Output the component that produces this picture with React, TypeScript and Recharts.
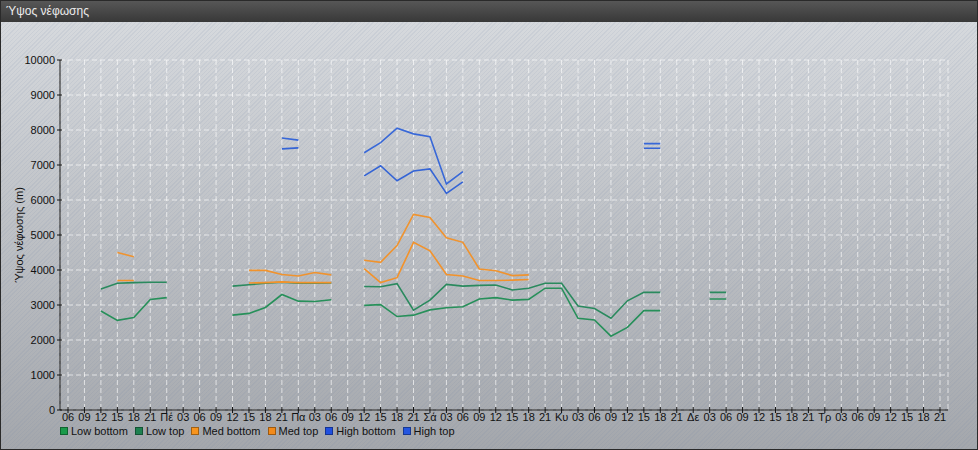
import { LineChart, Line, XAxis, YAxis, CartesianGrid } from "recharts";

// 3-hour slots, Wed 06:00 .. Tue 21:00
const firstDay = ["06", "09", "12", "15", "18", "21"];
const dayNames = ["Πέ", "Πα", "Σά", "Κυ", "Δε", "Τρ"];
const hours = ["03", "06", "09", "12", "15", "18", "21"];
const slots: string[] = [...firstDay, ...dayNames.flatMap((d) => [d, ...hours])];

const _ = null;

const lowBottom = [
  _, _, 2830, 2560, 2640, 3160, 3210, _, _, _,
  2710, 2760, 2930, 3300, 3110, 3100, 3150, _, 2990, 3010,
  2670, 2710, 2860, 2920, 2950, 3170, 3210, 3140, 3160, 3480,
  3480, 2620, 2570, 2110, 2360, 2840, 2840, _, _, 3170,
  3170, _, _, _, _, _, _, _, _, _,
  _, _, _, _,
];
const lowTop = [
  _, _, 3460, 3620, 3640, 3650, 3650, _, _, _,
  3540, 3580, 3620, 3650, 3620, 3620, 3630, _, 3530, 3520,
  3610, 2850, 3140, 3590, 3540, 3560, 3570, 3430, 3480, 3620,
  3620, 2970, 2900, 2620, 3120, 3360, 3360, _, _, 3360,
  3360, _, _, _, _, _, _, _, _, _,
  _, _, _, _,
];
const medBottom = [
  _, _, _, 3700, 3700, _, _, _, _, _,
  _, 3630, 3640, 3660, 3640, 3640, 3640, _, 4040, 3640,
  3780, 4790, 4550, 3870, 3830, 3700, 3700, 3710, 3730, _,
  _, _, _, _, _, _, _, _, _, _,
  _, _, _, _, _, _, _, _, _, _,
  _, _, _, _,
];
const medTop = [
  _, _, _, 4500, 4380, _, _, _, _, _,
  _, 3990, 3990, 3870, 3830, 3930, 3860, _, 4280, 4220,
  4700, 5590, 5500, 4920, 4790, 4030, 3980, 3840, 3860, _,
  _, _, _, _, _, _, _, _, _, _,
  _, _, _, _, _, _, _, _, _, _,
  _, _, _, _,
];
const highBottom = [
  _, _, _, _, _, _, _, _, _, _,
  _, _, _, 7460, 7490, _, _, _, 6690, 6980,
  6550, 6830, 6890, 6190, 6520, _, _, _, _, _,
  _, _, _, _, _, 7480, 7480, _, _, _,
  _, _, _, _, _, _, _, _, _, _,
  _, _, _, _,
];
const highTop = [
  _, _, _, _, _, _, _, _, _, _,
  _, _, _, 7770, 7710, _, _, _, 7350, 7640,
  8050, 7890, 7810, 6460, 6810, _, _, _, _, _,
  _, _, _, _, _, 7610, 7610, _, _, _,
  _, _, _, _, _, _, _, _, _, _,
  _, _, _, _,
];

const yTicks = [0, 1000, 2000, 3000, 4000, 5000, 6000, 7000, 8000, 9000, 10000];

const series = [
  { key: "lowBottom", name: "Low bottom", values: lowBottom, color: "#27905a", box: "#1a9a4a" },
  { key: "lowTop", name: "Low top", values: lowTop, color: "#2a8a5e", box: "#1e8050" },
  { key: "medBottom", name: "Med bottom", values: medBottom, color: "#f3922a", box: "#f7941d" },
  { key: "medTop", name: "Med top", values: medTop, color: "#f0932e", box: "#f28a1a" },
  { key: "highBottom", name: "High bottom", values: highBottom, color: "#3464d6", box: "#1f4fe0" },
  { key: "highTop", name: "High top", values: highTop, color: "#3868d8", box: "#2456e0" },
];

const data = slots.map((t, i) => {
  const row: Record<string, string | number | null> = { t };
  series.forEach((s) => (row[s.key] = s.values[i]));
  return row;
});

const FONT = '"Liberation Sans", Arial, sans-serif';

function XTick(props: any) {
  const { x, y, payload } = props;
  return (
    <g>
      <line x1={x} x2={x} y1={y - 3} y2={y + 3} stroke="#111" />
      <text x={x} y={y + 11} textAnchor="middle" fontSize={11} fill="#111" fontFamily={FONT}>
        {payload.value}
      </text>
    </g>
  );
}

function YTick(props: any) {
  const { x, y, payload } = props;
  return (
    <g>
      <line x1={x - 3} x2={x + 2} y1={y} y2={y} stroke="#111" />
      <text x={x - 5} y={y + 4} textAnchor="end" fontSize={11} fill="#111" fontFamily={FONT}>
        {payload.value}
      </text>
    </g>
  );
}

function YLabel(props: any) {
  const { viewBox } = props;
  const cx = viewBox.x + 18;
  const cy = viewBox.y + viewBox.height / 2;
  return (
    <text
      x={cx}
      y={cy}
      transform={`rotate(-90 ${cx} ${cy})`}
      textAnchor="middle"
      dominantBaseline="central"
      fontSize={11}
      fill="#111"
      fontFamily={FONT}
    >
      Ύψος νέφωσης (m)
    </text>
  );
}

export default function App() {
  return (
    <div
      style={{
        width: 978,
        height: 450,
        boxSizing: "border-box",
        border: "1px solid #2a2a2a",
        fontFamily: FONT,
        position: "relative",
        overflow: "hidden",
      }}
    >
      <style>{"body{margin:0}"}</style>
      <div
        style={{
          height: 21,
          lineHeight: "21px",
          paddingLeft: 5,
          fontSize: 12,
          color: "#ececec",
          background: "linear-gradient(#575757, #383838)",
        }}
      >
        Ύψος νέφωσης
      </div>
      <div
        style={{
          position: "relative",
          height: 427,
          background:
            "repeating-linear-gradient(135deg, rgba(255,255,255,0) 0px, rgba(255,255,255,0) 2px, rgba(110,130,165,0.1) 2px, rgba(110,130,165,0.1) 3px), linear-gradient(#d6d9dd, #a4a7ac)",
        }}
      >
        <LineChart width={976} height={427} data={data} margin={{ top: 38, right: 29, left: 0, bottom: 0 }}>
          <CartesianGrid stroke="rgba(255,255,255,0.65)" strokeDasharray="5 3" />
          <XAxis
            dataKey="t"
            interval={0}
            height={39}
            padding={{ left: 8, right: 8 }}
            tickSize={0}
            tickMargin={0}
            tick={<XTick />}
            axisLine={{ stroke: "#111" }}
          />
          <YAxis
            width={59}
            domain={[0, 10000]}
            ticks={yTicks}
            interval={0}
            tickSize={0}
            tickMargin={0}
            tick={<YTick />}
            axisLine={{ stroke: "#111" }}
            label={<YLabel />}
          />
          {series.map((s) => (
            <Line
              key={s.key}
              dataKey={s.key}
              name={s.name}
              type="linear"
              stroke={s.color}
              strokeWidth={1.6}
              dot={false}
              activeDot={false}
              connectNulls={false}
              isAnimationActive={false}
            />
          ))}
        </LineChart>
        <div
          style={{
            position: "absolute",
            left: 59,
            top: 403,
            display: "flex",
            alignItems: "center",
            fontSize: 11,
            color: "#111",
          }}
        >
          {series.map((s) => (
            <div key={s.key} style={{ display: "flex", alignItems: "center", marginRight: 7 }}>
              <span
                style={{
                  display: "inline-block",
                  width: 6,
                  height: 6,
                  background: s.box,
                  border: "1px solid rgba(0,0,0,0.35)",
                  marginRight: 3,
                }}
              />
              <span>{s.name}</span>
            </div>
          ))}
        </div>
      </div>
    </div>
  );
}
